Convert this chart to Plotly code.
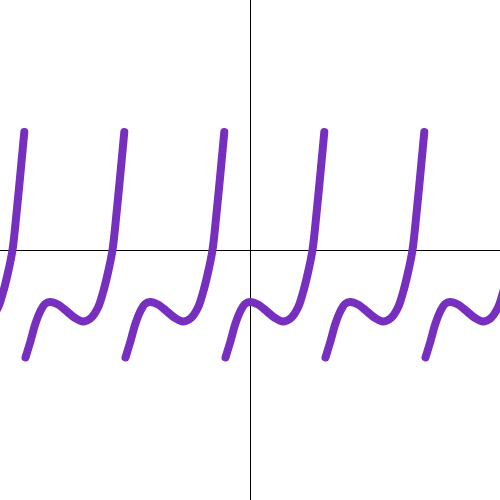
import plotly.graph_objects as go

# Curve samples, one list per branch (axis units)
seg1_x = [-5.34, -5.18, -5.04, -4.94, -4.84, -4.75, -4.666, -4.586, -4.514]
seg1_y = [-1.43, -1.36, -1.15, -0.85, -0.45, 0.0, 0.77, 1.59, 2.36]

seg2_x = [-4.49, -4.386, -4.294, -4.186, -4.1, -4.0, -3.84, -3.66, -3.5, -3.34, -3.18, -3.04, -2.94, -2.84, -2.75, -2.666, -2.586, -2.514]
seg2_y = [-2.15, -1.81, -1.48, -1.21, -1.08, -1.04, -1.09, -1.23, -1.36, -1.43, -1.36, -1.15, -0.85, -0.45, 0.0, 0.77, 1.59, 2.36]

seg3_x = [-2.49, -2.386, -2.294, -2.186, -2.1, -2.0, -1.84, -1.66, -1.5, -1.34, -1.18, -1.04, -0.94, -0.84, -0.75, -0.666, -0.586, -0.514]
seg3_y = [-2.15, -1.81, -1.48, -1.21, -1.08, -1.04, -1.09, -1.23, -1.36, -1.43, -1.36, -1.15, -0.85, -0.45, 0.0, 0.77, 1.59, 2.36]

seg4_x = [-0.49, -0.386, -0.294, -0.186, -0.1, 0.0, 0.16, 0.34, 0.5, 0.66, 0.82, 0.96, 1.06, 1.16, 1.25, 1.334, 1.414, 1.486]
seg4_y = [-2.15, -1.81, -1.48, -1.21, -1.08, -1.04, -1.09, -1.23, -1.36, -1.43, -1.36, -1.15, -0.85, -0.45, 0.0, 0.77, 1.59, 2.36]

seg5_x = [1.51, 1.614, 1.706, 1.814, 1.9, 2.0, 2.16, 2.34, 2.5, 2.66, 2.82, 2.96, 3.06, 3.16, 3.25, 3.334, 3.414, 3.486]
seg5_y = [-2.15, -1.81, -1.48, -1.21, -1.08, -1.04, -1.09, -1.23, -1.36, -1.43, -1.36, -1.15, -0.85, -0.45, 0.0, 0.77, 1.59, 2.36]

seg6_x = [3.51, 3.614, 3.706, 3.814, 3.9, 4.0, 4.16, 4.34, 4.5, 4.66, 4.82, 4.96, 5.06, 5.16]
seg6_y = [-2.15, -1.81, -1.48, -1.21, -1.08, -1.04, -1.09, -1.23, -1.36, -1.43, -1.36, -1.15, -0.85, -0.45]

segments = [(seg1_x, seg1_y), (seg2_x, seg2_y), (seg3_x, seg3_y),
            (seg4_x, seg4_y), (seg5_x, seg5_y), (seg6_x, seg6_y)]

LINE_COLOR = "#772fc0"

fig = go.Figure()
for sx, sy in segments:
    fig.add_trace(go.Scatter(
        x=sx, y=sy, mode="lines",
        line=dict(color=LINE_COLOR, width=8, shape="spline", smoothing=0.9),
        showlegend=False, hoverinfo="skip",
    ))

axis_common = dict(
    range=[-5, 5], showgrid=False, showticklabels=False, ticks="",
    zeroline=True, zerolinecolor="black", zerolinewidth=1, showline=False,
    fixedrange=True,
)
fig.update_layout(
    width=500, height=500,
    margin=dict(l=0, r=0, t=0, b=0),
    paper_bgcolor="white", plot_bgcolor="white",
    xaxis=axis_common, yaxis=axis_common,
)

post = (
    "document.body.style.margin='0';"
    "var gd=document.getElementById('{plot_id}');"
    "function rc(){gd.querySelectorAll('path.js-line').forEach(function(p){p.style.strokeLinecap='round';});}"
    "rc(); gd.on('plotly_afterplot', rc);"
)
fig.write_html("out.html", post_script=post, config={"displayModeBar": False})
